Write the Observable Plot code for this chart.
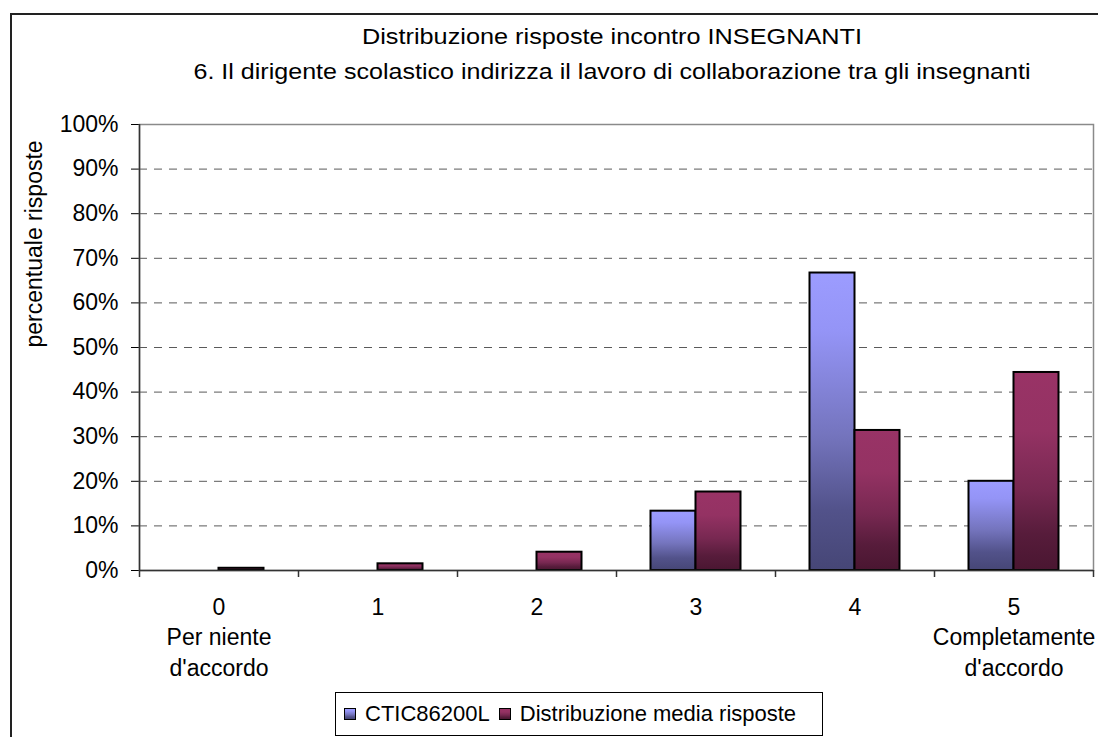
<!DOCTYPE html>
<html>
<head>
<meta charset="utf-8">
<script src="https://cdn.jsdelivr.net/npm/d3@7"></script>
<script src="https://cdn.jsdelivr.net/npm/@observablehq/plot@0.6"></script>
<style>
  html, body { margin: 0; padding: 0; background: #fff; width: 1098px; height: 737px; overflow: hidden; }
  body { font-family: "Liberation Sans", Arial, sans-serif; color: #000; }
  #frame { position: absolute; left: 10px; top: 13px; width: 1200px; height: 800px;
           border-left: 2px solid #222; border-top: 2px solid #222; }
  #frame svg { display: block; overflow: visible; }
  #legend { margin-left: 323px; margin-top: 4px; width: 478px; height: 42px; border: 1px solid #000;
            display: flex; align-items: center; font-size: 22px; white-space: nowrap; }
  #legend .sw { width: 10px; height: 10px; border: 1px solid #000; margin-right: 9px; flex: none; }
  #legend .item { display: flex; align-items: center; }
</style>
</head>
<body>
<div id="frame">
  <div id="title"></div>
  <div id="chart"></div>
  <div id="legend"></div>
</div>
<script>
// Survey answers: share of responses per agreement level (0 = none, 5 = complete)
const titleLines = [
  "Distribuzione risposte incontro INSEGNANTI",
  "6. Il dirigente scolastico indirizza il lavoro di collaborazione tra gli insegnanti"
];
const categories = ["0", "1", "2", "3", "4", "5"];
const categoryLabels = ["0\nPer niente\nd'accordo", "1", "2", "3", "4", "5\nCompletamente\nd'accordo"];
const seriesNames = ["CTIC86200L", "Distribuzione media risposte"];
const schoolValues = [0, 0, 0, 13.3, 66.7, 20.0];     // CTIC86200L, %
const averageValues = [0.5, 1.5, 4.1, 17.6, 31.4, 44.4]; // average distribution, %
const yTicks = [0, 10, 20, 30, 40, 50, 60, 70, 80, 90, 100];
const yLabel = "percentuale risposte";

// vertical shading of each series (top → bottom)
const gradients = {
  school: [["0", "#9c9cff"], ["0.2", "#9494f6"], ["0.55", "#7474bd"], ["0.8", "#52528a"], ["1", "#464676"]],
  average: [["0", "#993366"], ["0.3", "#943263"], ["0.6", "#772851"], ["0.82", "#571c3b"], ["1", "#4a1631"]]
};

// ---- title ----
const titleSvg = d3.select("#title").append("svg").attr("width", 1086).attr("height", 85);
const titleWidths = [500, 837];
titleLines.forEach((t, i) => {
  titleSvg.append("text")
    .attr("x", 600).attr("y", 29 + i * 35)
    .attr("text-anchor", "middle")
    .attr("font-size", 22)
    .attr("textLength", titleWidths[i])
    .attr("lengthAdjust", "spacingAndGlyphs")
    .text(t);
});

// ---- plot ----
const W = 1086, H = 588;
const mL = 127, mR = 5, mT = 24, mB = 118;
const step = (W - mL - mR) / categories.length;
const barW = 45;
const outer = (step - 2 * barW) / 2;
const plotH = H - mT - mB;

const schoolRows = categories.map((c, i) => ({cat: c, value: schoolValues[i]}));
const averageRows = categories.map((c, i) => ({cat: c, value: averageValues[i]}));
const labelRows = categories.map((c, i) => ({cat: c, label: categoryLabels[i]}));

const plot = Plot.plot({
  width: W, height: H,
  marginLeft: mL, marginRight: mR, marginTop: mT, marginBottom: mB,
  x: {domain: categories, padding: 0, axis: null},
  y: {domain: [0, 100], ticks: yTicks, tickFormat: d => d + "%", tickSize: 8, tickPadding: 13, label: null},
  style: {fontFamily: "Liberation Sans, Arial, sans-serif", fontSize: "23px", color: "#000", background: "#fff", overflow: "visible"},
  marks: [
    Plot.ruleY(yTicks.filter(v => v > 0 && v < 100), {y: d => d, stroke: "#5a5a5a", strokeDasharray: "8,7", strokeWidth: 1}),
    Plot.frame({stroke: "#8a8a8a", strokeWidth: 1.5}),
    Plot.barY(schoolRows, {
      filter: d => d.value > 0,
      x: "cat", y: "value",
      fill: "url(#grad-school)", stroke: "#000", strokeWidth: 2,
      insetLeft: outer, insetRight: step - outer - barW
    }),
    Plot.barY(averageRows, {
      filter: d => d.value > 0,
      x: "cat", y: "value",
      fill: "url(#grad-average)", stroke: "#000", strokeWidth: 2,
      insetLeft: outer + barW, insetRight: outer
    }),
    Plot.ruleY([0], {stroke: "#333", strokeWidth: 1.5}),
    Plot.ruleX([categories[0]], {x: d => d, dx: -step / 2, stroke: "#333", strokeWidth: 1.5}),
    // category separators under the axis
    Plot.ruleX(categories, {x: d => d, dx: -step / 2, insetTop: plotH, insetBottom: -7, stroke: "#333", strokeWidth: 1.5}),
    Plot.ruleX([categories[categories.length - 1]], {x: d => d, dx: step / 2, insetTop: plotH, insetBottom: -7, stroke: "#333", strokeWidth: 1.5}),
    Plot.text(labelRows, {
      x: "cat", text: "label", frameAnchor: "bottom", lineAnchor: "top",
      dy: 23, lineHeight: 1.32, fontSize: 23, fill: "#000"
    }),
    Plot.text([yLabel], {
      text: d => d, frameAnchor: "left", rotate: -90, dx: -105, fontSize: 23, fill: "#000"
    })
  ]
});

const defs = d3.select(plot).insert("defs", ":first-child");
for (const [key, stops] of Object.entries(gradients)) {
  const g = defs.append("linearGradient").attr("id", "grad-" + key)
    .attr("x1", 0).attr("y1", 0).attr("x2", 0).attr("y2", 1);
  for (const [o, c] of stops) g.append("stop").attr("offset", o).attr("stop-color", c);
}
document.getElementById("chart").appendChild(plot);

// ---- legend ----
const legend = d3.select("#legend").style("padding-left", "8px").style("box-sizing", "content-box");
const swatchCss = stops => "linear-gradient(to bottom, " + stops.map(([o, c]) => `${c} ${o * 100}%`).join(", ") + ")";
[gradients.school, gradients.average].forEach((stops, i) => {
  const item = legend.append("div").attr("class", "item").style("margin-right", i === 0 ? "9px" : "0");
  item.append("div").attr("class", "sw").style("background", swatchCss(stops));
  item.append("span").text(seriesNames[i]);
});
</script>
</body>
</html>
